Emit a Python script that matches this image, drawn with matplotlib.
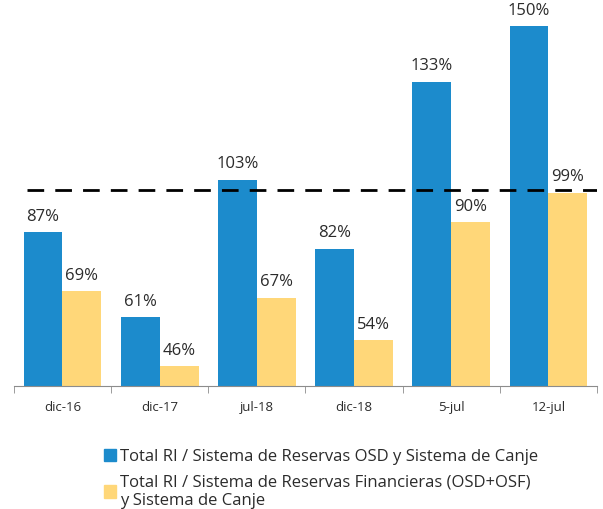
import matplotlib.pyplot as plt
from matplotlib.patches import Patch
import numpy as np

categories = ["dic-16", "dic-17", "jul-18", "dic-18", "5-jul", "12-jul"]
osd = [87, 61, 103, 82, 133, 150]
financieras = [69, 46, 67, 54, 90, 99]
ref_level = 100

blue = "#1c8bcc"
yellow = "#ffd779"
text_col = "#2b2b2b"

plt.rcParams["font.family"] = ["Open Sans", "DejaVu Sans"]

fig = plt.figure(figsize=(6.03, 5.09), dpi=100)
ax = fig.add_axes([0.023, 0.2417, 0.967, 0.7583])

x = np.arange(len(categories))
w = 0.4
ax.bar(x - w / 2, osd, w, color=blue)
ax.bar(x + w / 2, financieras, w, color=yellow)

for xi, v in zip(x, osd):
    ax.text(xi - w / 2, v + 2.3, f"{v}%", ha="center", va="bottom", fontsize=12, color=text_col)
for xi, v in zip(x, financieras):
    ax.text(xi + w / 2, v + 2.3, f"{v}%", ha="center", va="bottom", fontsize=12, color=text_col)

ax.plot([-0.37, 5.5], [ref_level, ref_level], color="black", lw=2.0, dashes=(6, 4))

ax.set_xlim(-0.5, 5.5)
ax.set_ylim(40, 158)

for side in ["top", "right", "left"]:
    ax.spines[side].set_visible(False)
ax.spines["bottom"].set_color("#8c8c8c")
ax.set_yticks([])
ax.set_xticks(x)
ax.set_xticklabels(categories, fontsize=9.5, color=text_col)
ax.tick_params(axis="x", which="major", length=0, pad=11)
ax.set_xticks(np.arange(-0.5, 6, 1), minor=True)
ax.tick_params(axis="x", which="minor", length=5, color="#8c8c8c")

handles = [
    Patch(color=blue, label="Total RI / Sistema de Reservas OSD y Sistema de Canje"),
    Patch(color=yellow, label="Total RI / Sistema de Reservas Financieras (OSD+OSF)\ny Sistema de Canje"),
]
fig.legend(handles=handles, loc="upper left", bbox_to_anchor=(0.172, 0.118), frameon=False,
           fontsize=12, handlelength=0.75, handleheight=0.75, handletextpad=0.25,
           labelspacing=0.55, borderaxespad=0, borderpad=0, labelcolor=text_col)

fig.savefig("out.png", dpi=100)
